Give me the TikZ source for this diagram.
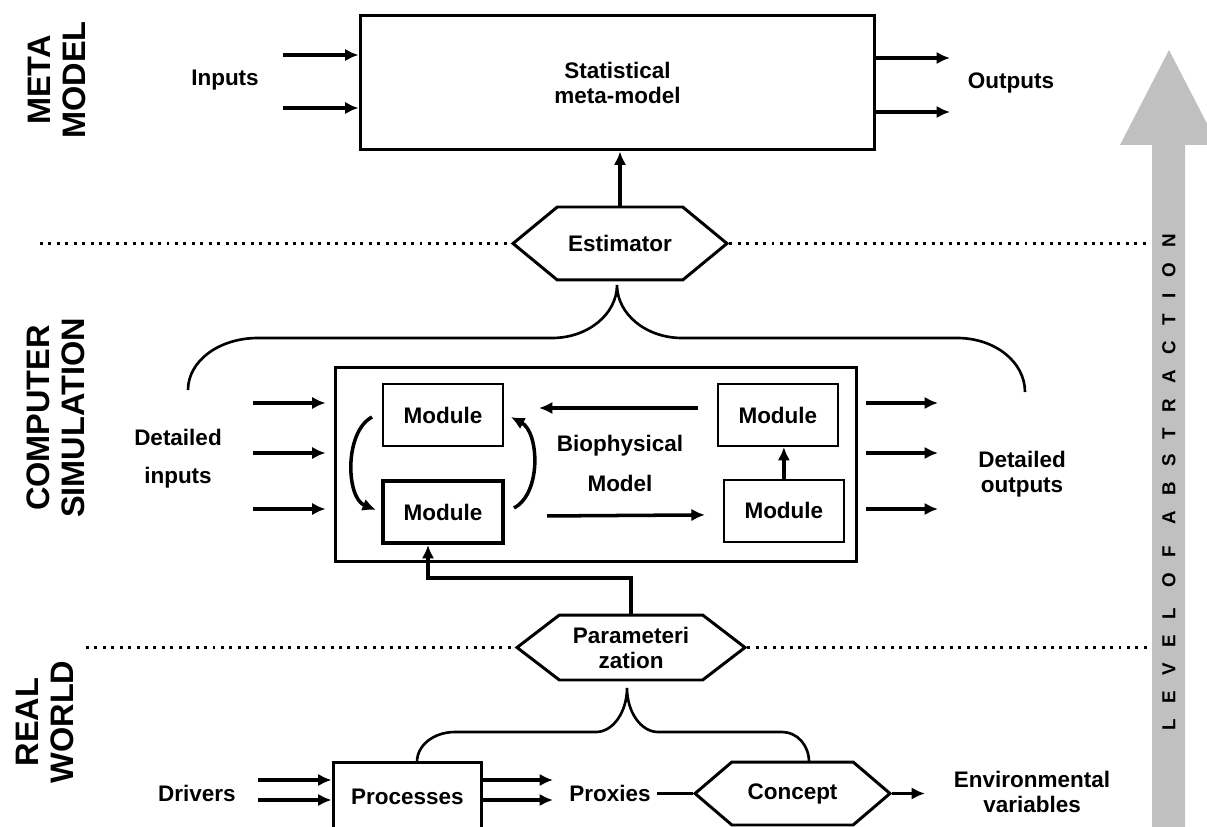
\documentclass[tikz,border=0pt]{standalone}
\usepackage{fontspec}
\setmainfont{Liberation Sans}
\newfontfamily\spacedfont[LetterSpace=82]{Liberation Sans}
\usetikzlibrary{positioning}
\usetikzlibrary{arrows.meta}
\usetikzlibrary{shapes.symbols}
\definecolor{abstrgray}{RGB}{192,192,192}
\newcommand{\figfont}{\bfseries\fontsize{12.8}{14.2}\selectfont}

\begin{document}
\begin{tikzpicture}[x=0.02cm, y=-0.02cm,
    box/.style={rectangle, draw=black, line width=1.7pt, align=center, font=\figfont},
    module/.style={rectangle, draw=black, line width=1.1pt, minimum width=2.4cm, minimum height=1.24cm, inner sep=0pt, font=\figfont},
    hexa/.style={signal, signal to=west and east, draw=black, line width=1.7pt, inner sep=0pt, align=center, font=\figfont},
    lbl/.style={align=center, font=\figfont},
    tier/.style={rotate=90, align=center, font=\bfseries\fontsize{18.5}{19.8}\selectfont},
    flow/.style={-{Latex[length=2.7mm,width=2.5mm]}, line width=2pt},
    bracecurve/.style={line width=1.5pt},
    divider/.style={line width=1.7pt, dash pattern=on 1.7pt off 3.1pt}]

    \useasboundingbox (0,0) rectangle (1207,827);

    % level of abstraction
    \fill[abstrgray] (1152,840) -- (1152,145) -- (1120,145) -- (1169,50) -- (1218,145) -- (1185,145) -- (1185,840) -- cycle;
    \node[rotate=90, font=\spacedfont\bfseries\fontsize{10.7}{12}\selectfont] (lvl) at (1169,482) {LEVEL OF ABSTRACTION};

    \node[tier] (lmeta) at (57,80) {META\\MODEL};
    \node[tier] (lsim) at (56,418) {COMPUTER\\SIMULATION};
    \node[tier] (lreal) at (45,722) {REAL\\WORLD};

    % meta model
    \node[box, minimum width=10.3cm, minimum height=2.7cm] (meta) at (617.5,82.5) {Statistical\\meta-model};
    \node[lbl] (inp) at (225,80) {Inputs};
    \node[lbl] (outp) at (1011,83) {Outputs};
    \coordinate (in1) at (283,55);
    \coordinate (in2) at (283,108);
    \coordinate (out1) at (950,58);
    \coordinate (out2) at (950,112);
    \draw[flow] (in1) -- (in1 -| meta.west);
    \draw[flow] (in2) -- (in2 -| meta.west);
    \draw[flow] (out1 -| meta.east) -- (out1);
    \draw[flow] (out2 -| meta.east) -- (out2);

    \node[hexa, minimum width=4.28cm, minimum height=1.46cm, signal pointer angle=79] (est) at (620,243.5) {Estimator};
    \draw[flow] (est.north) -- (est.north |- meta.south);
    \coordinate (d1) at (40,242);
    \coordinate (d2) at (1150,242);
    \draw[divider] (d1 |- est.west) -- (est.west);
    \draw[divider] (est.east) -- (d2 |- est.east);

    \draw[bracecurve] (188,390) .. controls (188,361) and (219,338) .. (258,338) -- (552,338)
        .. controls (588,338) and (617,314) .. (617,285) .. controls (617,314) and (646,338) .. (682,338)
        -- (957,338) .. controls (995,338) and (1025,362) .. (1025,392);

    % computer simulation
    \node[draw, line width=1.7pt, minimum width=10.44cm, minimum height=3.9cm] (sim) at (596,464.5) {};
    \node[module] (tl) at (443,415) {Module};
    \node[module, below=0.64cm of tl, line width=2.3pt] (bl) {Module};
    \node[module, right=4.26cm of tl] (tr) {Module};
    \node[module, below=0.64cm of tr, xshift=0.12cm] (br) {Module};
    \node[lbl] (bio) at (620,463) {Biophysical\\[0.3cm]Model};

    \draw[flow] ([shift={(-19,-7)}]tr.west) -- ([shift={(35,-7)}]tl.east);
    \draw[flow] ([shift={(42,4)}]bl.east) -- ([shift={(-18,4)}]br.west);
    \draw[flow] (br.north) -- (br.north |- tr.south);
    \draw[flow] ([shift={(-10,2)}]tl.west) .. controls +(-28,15) and +(-30,-12) .. ([shift={(-5,-2)}]bl.west);
    \draw[flow] ([shift={(9,-4)}]bl.east) .. controls +(28,-15) and +(28,15) .. ([shift={(7,2)}]tl.east);

    \node[lbl] (din) at (178,459) {Detailed\\[0.26cm]inputs};
    \node[lbl] (dout) at (1022,474.5) {Detailed\\outputs};
    \coordinate (si1) at (253,403);
    \coordinate (si2) at (253,453);
    \coordinate (si3) at (253,509);
    \coordinate (so1) at (938,403);
    \coordinate (so2) at (938,453);
    \coordinate (so3) at (938,509);
    \draw[flow, shorten >=0.16cm] (si1) -- (si1 -| sim.west);
    \draw[flow, shorten >=0.16cm] (si2) -- (si2 -| sim.west);
    \draw[flow, shorten >=0.16cm] (si3) -- (si3 -| sim.west);
    \draw[flow, shorten <=0.16cm] (so1 -| sim.east) -- (so1);
    \draw[flow, shorten <=0.16cm] (so2 -| sim.east) -- (so2);
    \draw[flow, shorten <=0.16cm] (so3 -| sim.east) -- (so3);

    \node[hexa, minimum width=4.56cm, minimum height=1.3cm, signal pointer angle=75] (par) at (631,647.5) {Parameteri\\zation};
    \draw[flow] (par.north) -- (par.north |- 0,578) -| ([xshift=-0.3cm]bl.south);
    \coordinate (d3) at (86,645);
    \coordinate (d4) at (1152,645);
    \draw[divider] (d3 |- par.west) -- (par.west);
    \draw[divider] (par.east) -- (d4 |- par.east);

    % real world
    \draw[bracecurve] (417,762) .. controls (417,745) and (434,732) .. (455,732) -- (596,732)
        .. controls (613,732) and (627,712) .. (627,688) .. controls (627,712) and (641,732) .. (658,732)
        -- (782,732) .. controls (797,732) and (809,745) .. (809,762);

    \node[box, minimum width=2.98cm, minimum height=1.4cm] (proc) at (407.5,797) {Processes};
    \node[lbl] (drv) at (197,793) {Drivers};
    \coordinate (dr1) at (258,780);
    \coordinate (dr2) at (258,800);
    \coordinate (pr1) at (553,780);
    \coordinate (pr2) at (553,800);
    \draw[flow] (dr1) -- (dr1 -| proc.west);
    \draw[flow] (dr2) -- (dr2 -| proc.west);
    \draw[flow] (pr1 -| proc.east) -- (pr1);
    \draw[flow] (pr2 -| proc.east) -- (pr2);

    \node[lbl] (prox) at (610,793.5) {Proxies};
    \node[hexa, minimum width=3.9cm, minimum height=1.26cm, signal pointer angle=81] (con) at (792.5,793.5) {Concept};
    \node[lbl] (env) at (1032,792) {Environmental\\variables};
    \coordinate (env1) at (925,793.5);
    \draw[line width=2pt] (prox.east) -- (con.west);
    \draw[flow] (con.east) -- (env1 |- con.east);
\end{tikzpicture}
\end{document}
